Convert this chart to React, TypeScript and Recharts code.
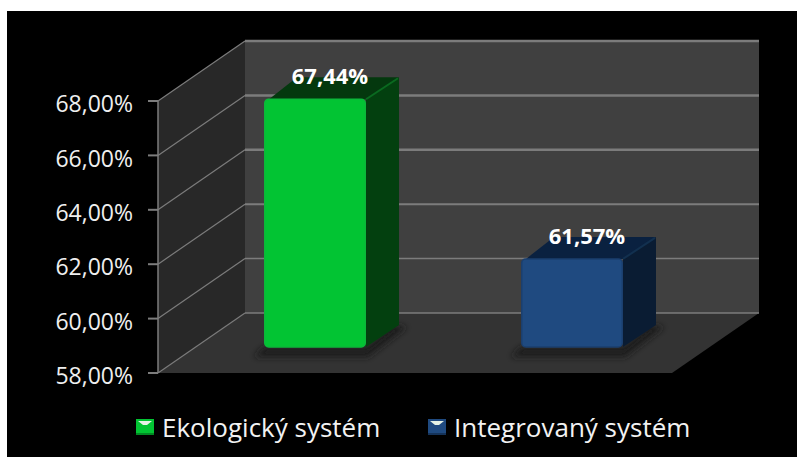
import { BarChart, Bar, XAxis, YAxis, Legend, LabelList, ReferenceArea, ReferenceLine } from "recharts";

const categories = ["Ekologický systém", "Integrovaný systém"];
const values = [67.44, 61.57];
const yTicks = [58, 60, 62, 64, 66, 68];

const frontColors = ["#02c433", "#1f4a80"];
const edgeColors = ["#0bb83a", "#1b3f6e"];
const sideColors = ["#03400f", "#0a1c33"];
const topColors = ["#04380e", "#0a2140"];
const ridgeColors = ["#0a6a20", "#12304f"];

const data = categories.map((name, i) => ({ name, value: values[i] }));

// oblique projection of the box: how far the back wall sits from the front plane
const DEPTH_X = 87;
const DEPTH_Y = -60;
// bars stand part-way into the floor
const BAR_SHIFT_X = 28;
const BAR_TOP_SHIFT = -17;
const BAR_BASE_SHIFT = -26;
const BAR_DX = 33;
const BAR_DY = -22;

const FONT = '"Open Sans", sans-serif';

const gridWidths: Record<number, number> = { 68: 2.5, 66: 2.5, 64: 2.5, 62: 2, 60: 1.5, 58: 1.5 };

const formatPercent = (v: number) => `${v.toFixed(2).replace(".", ",")}%`;

const pts = (list: number[][]) => list.map((p) => p.join(",")).join(" ");

const Walls = ({ x, y, width, height }: any) => {
  const bottom = y + height;
  return (
    <g>
      <polygon
        points={pts([[x, y], [x + DEPTH_X, y + DEPTH_Y], [x + DEPTH_X, bottom + DEPTH_Y], [x, bottom]])}
        fill="#282828"
      />
      <rect x={x + DEPTH_X} y={y + DEPTH_Y} width={width} height={height} fill="#404040" />
      <polygon
        points={pts([
          [x, bottom],
          [x + DEPTH_X, bottom + DEPTH_Y],
          [x + width + DEPTH_X, bottom + DEPTH_Y],
          [x + width, bottom],
        ])}
        fill="#333333"
      />
    </g>
  );
};

const GridLine = ({ x1, y1, x2, tick }: any) => (
  <g fill="none">
    <line x1={x1} y1={y1} x2={x1 + DEPTH_X} y2={y1 + DEPTH_Y} stroke="#7c7c7c" strokeWidth={1.2} />
    <line
      x1={x1 + DEPTH_X}
      y1={y1 + DEPTH_Y}
      x2={x2 + DEPTH_X}
      y2={y1 + DEPTH_Y}
      stroke="#7c7c7c"
      strokeWidth={gridWidths[tick]}
    />
  </g>
);

const Box = ({ x, y, width, height, index }: any) => {
  const left = x + BAR_SHIFT_X;
  const right = left + width;
  const top = y + BAR_TOP_SHIFT;
  const base = y + height + BAR_BASE_SHIFT;
  return (
    <g>
      {/* soft contact shadow on the floor */}
      <polygon
        points={pts([
          [left - 10, base + 10],
          [right + 2, base + 10],
          [right + BAR_DX + 8, base + BAR_DY + 2],
          [right + BAR_DX - 5, base + BAR_DY],
          [right, base],
          [left, base],
        ])}
        fill="#1c1c1c"
        filter="url(#floorShadow)"
      />
      <polygon
        points={pts([[left + 5, top], [left + BAR_DX, top + BAR_DY], [right + BAR_DX, top + BAR_DY], [right, top]])}
        fill={topColors[index]}
      />
      <polygon
        points={pts([
          [right, top],
          [right + BAR_DX, top + BAR_DY],
          [right + BAR_DX, base + BAR_DY],
          [right, base],
        ])}
        fill={sideColors[index]}
      />
      <line
        x1={right}
        y1={top}
        x2={right + BAR_DX - 1}
        y2={top + BAR_DY + 1}
        stroke={ridgeColors[index]}
        strokeWidth={2}
      />
      <rect
        x={left + 0.75}
        y={top}
        width={width - 1.5}
        height={base - top}
        rx={4}
        fill={frontColors[index]}
        stroke={edgeColors[index]}
        strokeWidth={1.5}
      />
    </g>
  );
};

const ValueLabel = ({ x, y, width, value }: any) => (
  <text
    x={x + BAR_SHIFT_X + width / 2 + 15}
    y={y + BAR_TOP_SHIFT - 15}
    textAnchor="middle"
    fill="#ffffff"
    fontFamily={FONT}
    fontWeight={700}
    fontSize={22}
  >
    {formatPercent(value)}
  </text>
);

const LegendSwatch = ({ color }: { color: string }) => (
  <svg width={18} height={16} style={{ display: "block" }}>
    <rect width={18} height={16} fill={color} />
    <polygon points="2,2 16,2 11,6 7,6" fill="#e6f2e6" />
    <rect y={14} width={18} height={2} fill="#000000" opacity={0.3} />
  </svg>
);

const legendX = [136, 428];

const ChartLegend = () => (
  <div style={{ position: "relative", height: 40, fontFamily: FONT, fontSize: 26, color: "#f2f2f2" }}>
    {categories.map((name, i) => (
      <div
        key={name}
        style={{ position: "absolute", left: legendX[i], top: 0, display: "flex", alignItems: "center", height: 40, whiteSpace: "nowrap" }}
      >
        <LegendSwatch color={frontColors[i]} />
        <span style={{ marginLeft: 8 }}>{name}</span>
      </div>
    ))}
  </div>
);

export default function App() {
  return (
    <div style={{ position: "absolute", left: 0, top: 0, width: 797, height: 457, background: "#ffffff", overflow: "hidden" }}>
      <div style={{ position: "absolute", left: 7, top: 11, width: 790, height: 446, background: "#000000" }} />
      <div style={{ position: "absolute", left: 0, top: 0 }}>
        <BarChart
          width={797}
          height={457}
          data={data}
          barSize={102}
          margin={{ top: 101, right: 125, bottom: 44, left: 98 }}
        >
          <defs>
            <filter id="floorShadow" x="-20%" y="-50%" width="140%" height="200%">
              <feGaussianBlur stdDeviation="3" />
            </filter>
          </defs>
          <XAxis dataKey="name" hide />
          <YAxis
            width={60}
            domain={[58, 68]}
            ticks={yTicks}
            interval={0}
            tickFormatter={formatPercent}
            tickSize={10}
            tickMargin={15}
            axisLine={{ stroke: "#7c7c7c", strokeWidth: 1.5 }}
            tickLine={{ stroke: "#7c7c7c", strokeWidth: 2 }}
            tick={{ fill: "#efefef", fontSize: 23, fontFamily: FONT, dy: 3 }}
          />
          <ReferenceArea y1={58} y2={68} shape={<Walls />} zIndex={-20} />
          {yTicks.map((t) => (
            <ReferenceLine key={t} y={t} shape={<GridLine tick={t} />} zIndex={-10} />
          ))}
          <Bar dataKey="value" shape={<Box />} isAnimationActive={false}>
            <LabelList dataKey="value" content={<ValueLabel />} />
          </Bar>
          <Legend
            content={<ChartLegend />}
            wrapperStyle={{ left: 0, top: 407, bottom: "auto", width: 797, height: 40 }}
          />
        </BarChart>
      </div>
    </div>
  );
}
